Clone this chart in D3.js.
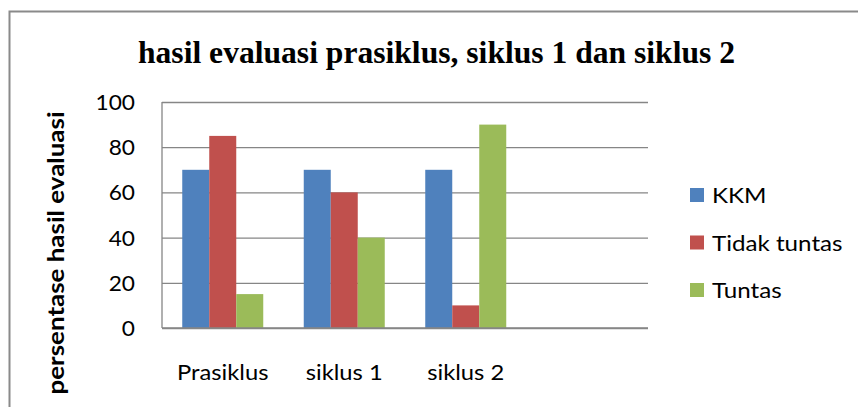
<!DOCTYPE html>
<html>
<head>
<meta charset="utf-8">
<script src="https://cdn.jsdelivr.net/npm/d3@7"></script>
<style>
  body { margin: 0; background: #fff; }
  svg { display: block; }
</style>
</head>
<body>
<svg width="858" height="407"></svg>
<script>
// data
const categories = ["Prasiklus", "siklus 1", "siklus 2", ""];
const seriesNames = ["KKM", "Tidak tuntas", "Tuntas"];
const kkm = [70, 70, 70, null];
const tidakTuntas = [85, 60, 10, null];
const tuntas = [15, 40, 90, null];
const yTicks = [0, 20, 40, 60, 80, 100];
const colors = ["#4F81BD", "#C0504D", "#9BBB59"];

const seriesValues = [kkm, tidakTuntas, tuntas];

let svg = d3.select('svg'),
  width = +svg.attr('width'),
  height = +svg.attr('height');

const plot = { left: 162, right: 648, top: 102, bottom: 328 };
const sansFont = "Lato, 'Open Sans', sans-serif";

// stretch text a little wider, the original font (Calibri) runs wider than Lato
function widen(sel, k) {
  sel.each(function () {
    const len = this.getComputedTextLength();
    d3.select(this).attr('textLength', len * k).attr('lengthAdjust', 'spacingAndGlyphs');
  });
}

// outer frame
svg.append('rect')
  .attr('x', 9.5).attr('y', 11.5)
  .attr('width', width + 20).attr('height', height + 20)
  .attr('fill', 'none')
  .attr('stroke', '#8a8a8a')
  .attr('stroke-width', 2);

// title
svg.append('text')
  .attr('x', 138).attr('y', 63)
  .attr('font-family', "'Liberation Serif', 'DejaVu Serif', serif")
  .attr('font-weight', 'bold')
  .attr('font-size', 32)
  .attr('textLength', 597)
  .attr('lengthAdjust', 'spacingAndGlyphs')
  .text('hasil evaluasi prasiklus, siklus 1 dan siklus 2');

const y = d3.scaleLinear().domain([0, 100]).range([plot.bottom, plot.top]);
const x0 = d3.scaleBand().domain(categories).range([plot.left, plot.right]).padding(0);
const x1 = d3.scaleBand().domain(seriesNames).range([0, x0.bandwidth()])
  .paddingInner(0).paddingOuter(0.75);

// gridlines + y axis
const yAxis = svg.append('g')
  .attr('transform', 'translate(' + plot.left + ',0)')
  .call(d3.axisLeft(y).tickValues(yTicks).tickSize(-(plot.right - plot.left)).tickPadding(27));
yAxis.select('.domain').remove();
yAxis.selectAll('.tick line')
  .attr('stroke', '#868686')
  .attr('stroke-width', 1.3);
yAxis.selectAll('.tick text')
  .attr('font-family', sansFont)
  .attr('font-size', 21)
  .attr('fill', '#000')
  .attr('dy', '0.36em');
widen(yAxis.selectAll('.tick text'), 1.08);

// left axis line
svg.append('line')
  .attr('x1', plot.left).attr('x2', plot.left)
  .attr('y1', plot.top).attr('y2', plot.bottom)
  .attr('stroke', '#868686').attr('stroke-width', 1.3);

// bars
const groups = svg.append('g').selectAll('g')
  .data(seriesNames)
  .enter()
  .append('g')
  .attr('fill', (d, i) => colors[i]);

groups.selectAll('rect')
  .data((s, i) => categories.map((c, j) => ({ cat: c, series: s, value: seriesValues[i][j] })))
  .enter()
  .filter(d => d.value != null)
  .append('rect')
  .attr('x', d => x0(d.cat) + x1(d.series))
  .attr('y', d => y(d.value))
  .attr('width', x1.bandwidth())
  .attr('height', d => y(0) - y(d.value));

// bottom axis line
svg.append('line')
  .attr('x1', plot.left).attr('x2', plot.right)
  .attr('y1', plot.bottom).attr('y2', plot.bottom)
  .attr('stroke', '#868686').attr('stroke-width', 1.3);

// category labels
const catLabels = svg.append('g').selectAll('text')
  .data(categories.filter(c => c !== ""))
  .enter()
  .append('text')
  .attr('x', d => x0(d) + x0.bandwidth() / 2)
  .attr('y', 380)
  .attr('text-anchor', 'middle')
  .attr('font-family', sansFont)
  .attr('font-size', 21)
  .attr('fill', '#000')
  .text(d => d);
widen(catLabels, 1.13);

// y axis title
svg.append('text')
  .attr('transform', 'translate(64,253) rotate(-90)')
  .attr('text-anchor', 'middle')
  .attr('font-family', sansFont)
  .attr('font-weight', 'bold')
  .attr('font-size', 22)
  .attr('fill', '#000')
  .attr('textLength', 283)
  .attr('lengthAdjust', 'spacingAndGlyphs')
  .text('persentase hasil evaluasi');

// legend
const legend = svg.append('g').selectAll('g')
  .data(seriesNames)
  .enter()
  .append('g')
  .attr('transform', (d, i) => 'translate(690,' + (188 + i * 47.5) + ')');

legend.append('rect')
  .attr('width', 14).attr('height', 14)
  .attr('fill', (d, i) => colors[i]);

const legendText = legend.append('text')
  .attr('x', 22).attr('y', 15)
  .attr('font-family', sansFont)
  .attr('font-size', 21)
  .attr('fill', '#000')
  .text(d => d);
widen(legendText, 1.15);
</script>
</body>
</html>
